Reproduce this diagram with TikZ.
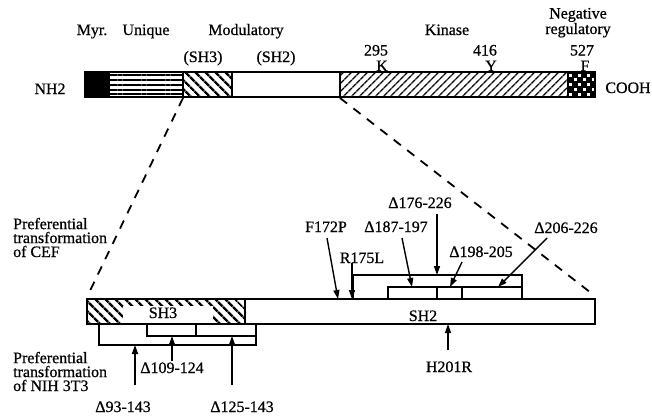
\documentclass[tikz,border=0pt]{standalone}
\usepackage{fontspec}
\setmainfont{Liberation Serif}
\newfontfamily\scanfont{Liberation Serif}[FakeBold=0.7]
\usetikzlibrary{patterns.meta,arrows.meta}
\begin{document}
\begin{tikzpicture}[x=1bp,y=-1bp,
  lbl/.style={font=\scanfont\fontsize{16}{14}\selectfont, inner sep=0pt, anchor=base},
  mlbl/.style={lbl, align=left, anchor=base west},
  bar/.style={draw=black, line width=1.5bp},
  conn/.style={draw=black, line width=1.4bp},
  arr/.style={conn, -{Triangle[length=9bp,width=6bp]}},
  zoomline/.style={draw=black, line width=1.8bp, dash pattern=on 9bp off 8bp},
  sh3hatch/.style={pattern={Lines[angle=-45,distance=6.8bp,line width=2.6bp]}},
  kinhatch/.style={pattern={Lines[angle=45,distance=6bp,line width=1.5bp]}},
  unihatch/.style={pattern={Lines[angle=0,distance=4.8bp,line width=2bp]}},
]
\useasboundingbox (0,0) rectangle (652,416);

% ---------- top (full protein) bar ----------
\fill[black] (85,72) rectangle (110,97);
\fill[unihatch] (110,72) rectangle (183,97);
\fill[sh3hatch] (183,72) rectangle (232,97);
\fill[kinhatch] (340,72) rectangle (568,97);
\fill[black] (568,72) rectangle (595,97);
\foreach \i in {0,...,5}{
  \foreach \j in {0,...,4}{
    \pgfmathtruncatemacro\p{mod(\i+\j,2)}
    \ifnum\p=0
      \fill[white] ({569.2+\i*4.5},{73.5+\j*4.8}) rectangle ++(3,3);
    \fi
  }
}
\draw[bar] (85,72) rectangle (595,97);
\draw[bar] (183,72) -- (183,97);
\draw[bar] (232,72) -- (232,97);
\draw[bar] (340,72) -- (340,97);
\draw[bar] (568,72) -- (568,97);

% top labels
\node[lbl] (myr) at (92,35) {Myr.};
\node[lbl] (uniq) at (146,35) {Unique};
\node[lbl] (modu) at (246,35) {Modulatory};
\node[lbl] (sh3t) at (203,62) {(SH3)};
\node[lbl] (sh2t) at (276,62) {(SH2)};
\node[lbl] (kin) at (447,35) {Kinase};
\node[lbl, align=center, font=\scanfont\fontsize{16}{12}\selectfont] (neg) at (578,34) {Negative\\regulatory};
\node[lbl] (n295) at (376,55.5) {295};
\node[lbl] (rK) at (382,71) {K};
\node[lbl] (n416) at (485,55.5) {416};
\node[lbl] (rY) at (491,71) {Y};
\node[lbl] (n527) at (582,55.5) {527};
\node[lbl] (rF) at (585,71) {F};
\node[lbl] (nh2) at (50,94) {NH2};
\node[lbl] (cooh) at (628,93) {COOH};

% ---------- zoom lines ----------
\coordinate (zl1) at (183,98);
\coordinate (zl2) at (87,297);
\coordinate (zr1) at (340,98);
\coordinate (zr2) at (595,296);
\draw[zoomline] (zl1) -- (zl2);
\draw[zoomline] (zr1) -- (zr2);

% ---------- lower (modulatory) bar ----------
\fill[sh3hatch] (87,299) rectangle (245,324);
\fill[white] (123,306) rectangle (213,324);
\draw[bar] (87,299) rectangle (595,324);
\draw[bar] (245,299) -- (245,324);
\node[lbl] (sh3) at (163,318) {SH3};
\node[lbl] (sh2) at (423,321) {SH2};

% SH3 deletions below bar
\draw[conn] (99,324) -- (99,345) -- (256,345) -- (256,324);
\draw[conn] (147,324) rectangle (256,336);
\draw[conn] (196,324) -- (196,336);
\coordinate (t93) at (135,385);  \coordinate (h93) at (135,345);
\coordinate (t109) at (172,361); \coordinate (h109) at (172,336);
\coordinate (t125) at (232,385); \coordinate (h125) at (232,336);
\draw[arr] (t93) -- (h93);
\draw[arr] (t109) -- (h109);
\draw[arr] (t125) -- (h125);
\node[lbl] (d109) at (172,373) {Δ109-124};
\node[lbl] (d93) at (123,412) {Δ93-143};
\node[lbl] (d125) at (242,412) {Δ125-143};

% SH2 deletions above bar
\draw[conn] (353,299) -- (353,275) -- (522,275) -- (522,287);
\draw[conn] (388,287) rectangle (522,299);
\draw[conn] (437,287) -- (437,299);
\draw[conn] (462,287) -- (462,299);

\coordinate (tF) at (327,238);  \coordinate (hF) at (338,299);
\coordinate (tR) at (352,263);  \coordinate (hR) at (352,299);
\coordinate (t176) at (437,214); \coordinate (h176) at (437,275);
\coordinate (t187) at (402,238); \coordinate (h187) at (412,287);
\coordinate (t198) at (462,262); \coordinate (h198) at (450,287);
\coordinate (t206) at (547,238); \coordinate (h206) at (498,287);
\coordinate (tH) at (448,350);  \coordinate (hH) at (448,324);
\draw[arr] (tF) -- (hF);
\draw[arr] (tR) -- (hR);
\draw[arr] (t176) -- (h176);
\draw[arr] (t187) -- (h187);
\draw[arr] (t198) -- (h198);
\draw[arr] (t206) -- (h206);
\draw[arr] (tH) -- (hH);

\node[lbl] (f172) at (326,232) {F172P};
\node[lbl] (r175) at (362,263) {R175L};
\node[lbl] (d176) at (420,208) {Δ176-226};
\node[lbl] (d187) at (396,232) {Δ187-197};
\node[lbl] (d198) at (481,257) {Δ198-205};
\node[lbl] (d206) at (566,233) {Δ206-226};
\node[lbl] (h201) at (449,372) {H201R};

% side labels
\node[mlbl] (cef) at (13,257) {Preferential\\transformation\\of CEF};
\node[mlbl] (nih) at (13,391) {Preferential\\transformation\\of NIH 3T3};
\end{tikzpicture}
\end{document}
